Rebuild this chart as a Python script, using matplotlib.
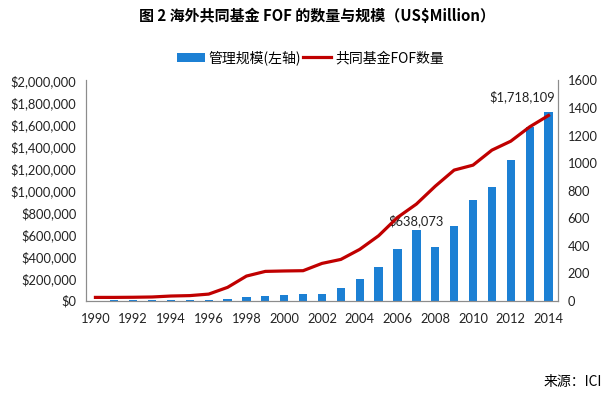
import numpy as np
import matplotlib
matplotlib.use("Agg")
import matplotlib.pyplot as plt
from matplotlib.ticker import FuncFormatter

plt.rcParams['font.family'] = ['Lato', 'Noto Sans CJK SC', 'DejaVu Sans']

# data
years = list(range(1990, 2015))
aum = [1500, 2000, 2500, 3000, 3500, 4000, 6000, 15000, 33000, 42000,
       52000, 60000, 60000, 115000, 197000, 306000, 470000, 638073, 488000,
       679000, 915000, 1033000, 1279000, 1579000, 1718109]
fof_count = [24, 24, 25, 27, 34, 37, 48, 97, 179, 213,
             216, 218, 271, 300, 373, 472, 605, 702, 832, 949,
             985, 1094, 1159, 1263, 1346]
labeled = {2007: "$638,073", 2014: "$1,718,109"}

title = "图 2 海外共同基金 FOF 的数量与规模（US$Million）"
bar_label = "管理规模(左轴)"
line_label = "共同基金FOF数量"
source = "来源：ICI"

bar_color = '#1C80D4'
line_color = '#C00000'
axis_color = '#8c8c8c'
cjk = ['Noto Sans CJK SC', 'DejaVu Sans']

fig = plt.figure(figsize=(6.16, 3.94), dpi=100)
ax = fig.add_axes([0.1396, 0.2368, 0.7662, 0.5589])
ax2 = ax.twinx()

x = np.arange(len(years))
bars = ax.bar(x, aum, width=0.44, color=bar_color, label=bar_label, zorder=2)
line, = ax2.plot(x, fof_count, color=line_color, linewidth=2.3, label=line_label, zorder=3)

ax.set_xlim(-0.5, len(years) - 0.5)
ax.set_ylim(0, 2000000)
ax2.set_ylim(0, 1600)
ax.set_yticks(np.arange(0, 2000001, 200000))
ax2.set_yticks(np.arange(0, 1601, 200))
ax.yaxis.set_major_formatter(FuncFormatter(lambda v, p: "${:,.0f}".format(v)))

ax.set_xticks(x[::2])
ax.set_xticklabels([str(y) for y in years[::2]])

for a in (ax, ax2):
    a.tick_params(length=0, labelsize=9.3, colors='#222222', pad=7)
    a.spines['top'].set_visible(False)
    for s in ('left', 'right', 'bottom'):
        a.spines[s].set_color(axis_color)
ax.tick_params(axis='x', pad=9)

ax2.set_zorder(ax.get_zorder() + 1)
ax2.patch.set_visible(False)

i = years.index(2007)
ax.annotate(labeled[2007], (x[i], aum[i]), xytext=(0, 2.5), textcoords='offset points',
            ha='center', va='bottom', fontsize=9.3, color='#222222', zorder=5)
i = years.index(2014)
ax.annotate(labeled[2014], (x[i], aum[i]), xytext=(4.5, 6), textcoords='offset points',
            ha='right', va='bottom', fontsize=9.3, color='#222222', zorder=5)

fig.text(0.515, 0.96, title, ha='center', va='center', fontsize=10.8,
         fontweight='bold', family=cjk)
fig.legend(handles=[bars, line], labels=[bar_label, line_label], loc='center',
           bbox_to_anchor=(0.504, 0.853), ncol=2, frameon=False,
           handlelength=2.0, handletextpad=0.3, columnspacing=0.15,
           prop={'family': cjk, 'size': 10})
fig.text(0.977, 0.03, source, ha='right', va='center', fontsize=10, family=cjk)

fig.savefig("out.png", dpi=100)
